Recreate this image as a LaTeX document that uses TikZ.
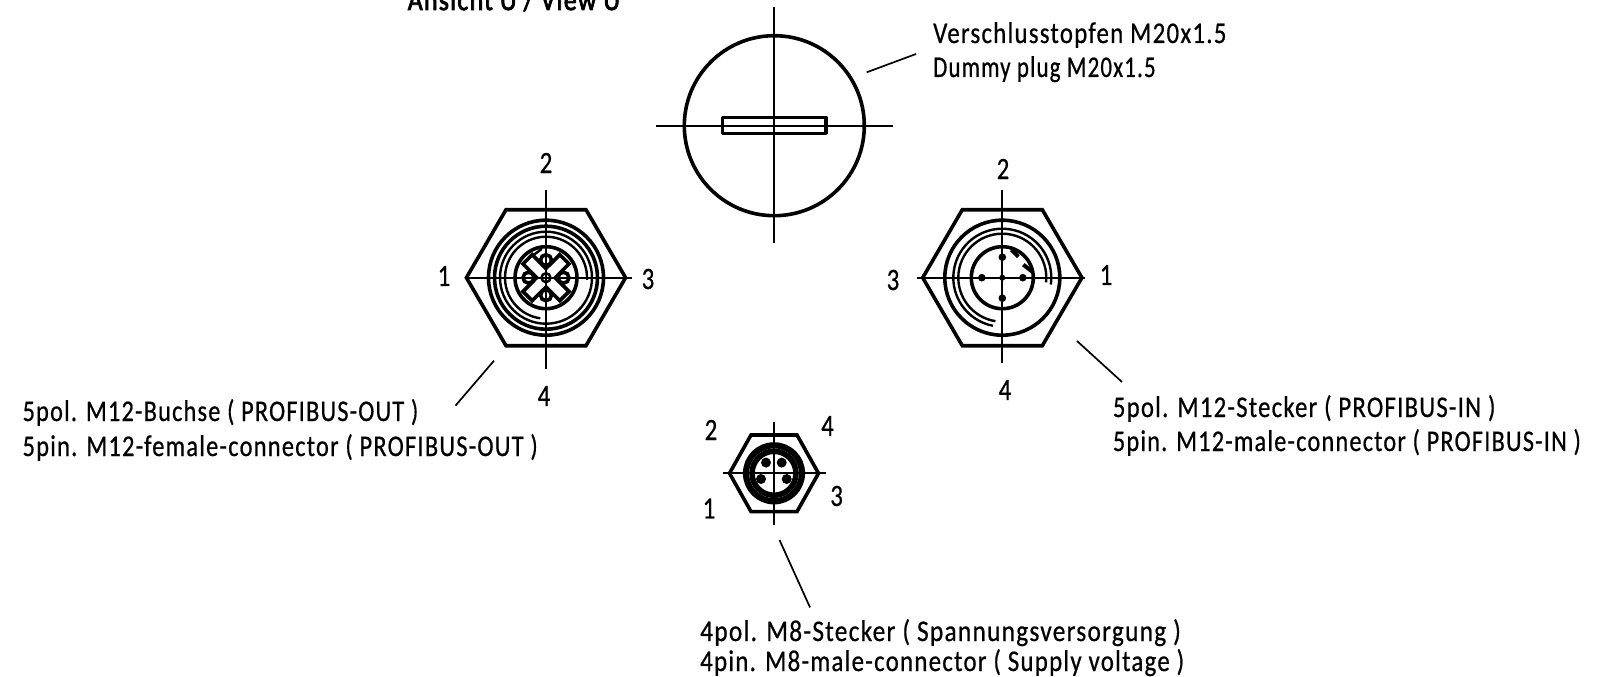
\documentclass[tikz,border=0pt]{standalone}
\usepackage{graphicx}
\usepackage{fontspec}
\setmainfont{Carlito}[LetterSpace=5,FakeBold=0.7]
\newfontfamily\headfont{Carlito}[LetterSpace=5,FakeBold=3]
\newcommand{\hs}[2]{\scalebox{#1}[1]{#2}}
\tikzset{
  heavy/.style={line width=3.6pt,black},
  medium/.style={line width=2.4pt,black},
  centerl/.style={line width=2pt,black},
  leader/.style={line width=1.7pt,black},
  lbl/.style={anchor=base west,inner sep=0pt,font=\fontsize{30}{30}\selectfont},
  num/.style={anchor=center,inner sep=0pt,font=\fontsize{31}{31}\selectfont},
}
\begin{document}
\begin{tikzpicture}[x=1pt,y=-1pt]
\useasboundingbox (0,0) rectangle (1598,677);
\clip (0,0) rectangle (1598,677);
% plug
\coordinate (plug) at (774.3,125.7);
\draw[heavy] (plug) circle (90);
\draw[heavy,line join=round] (722.3,117.3) rectangle (826,133.3);
\draw[centerl] (774.3,7.3) -- (774.3,243);
\draw[centerl] (656,125.7) -- (892.7,125.7);
\coordinate (plugA) at (866.7,72.3); \coordinate (plugB) at (916,54);
\draw[leader] (plugA) -- (plugB);
% hex 1
\begin{scope}[shift={(546,277.7)}]
\coordinate (h1) at (0,0);
\draw[heavy] (-79.6,0) -- (-40,-68) -- (40,-68) -- (79.6,0) -- (40,68) -- (-40,68) -- cycle;
\draw[heavy] (h1) circle (57.5);
\draw[heavy] (h1) circle (51.5);
\draw[medium] (h1) circle (46);
\draw[medium] (3:41) arc[start angle=3,end angle=-262,radius=41];
\draw[heavy] (h1) circle (31);
\draw[medium] (-4.3,-28.7) -- (-19.3,-17.7) -- (-21,-11);
\foreach \a in {45,135}{
  \draw[heavy,rotate=\a,fill=white] (-26,-6.5) rectangle (26,6.5);
}
\fill[white,rotate=45] (-10,-4.7) rectangle (10,4.7);
\foreach \p in {(0,-17.5),(17.5,0),(0,17.5),(-17.5,0)}{ \draw[heavy,fill=white] \p circle (5.5); }
\draw[medium,fill=white] (h1) circle (4.5);
\draw[centerl] (-79.6,0) -- (86,0);
\draw[centerl] (0,-88) -- (0,91);
\end{scope}
% hex 2
\begin{scope}[shift={(1002.3,277.7)}]
\coordinate (h2) at (0,0);
\draw[heavy] (-79.6,0) -- (-40,-68) -- (40,-68) -- (79.6,0) -- (40,68) -- (-40,68) -- cycle;
\draw[heavy] (h2) circle (57.5);
\draw[medium] (8:49) arc[start angle=8,end angle=-259,radius=49];
\draw[medium] (6:44) arc[start angle=6,end angle=-261,radius=44];
\draw[heavy] (h2) circle (31);
\draw[line width=4pt] (9,-28) -- (16,-21);
\draw[line width=4pt] (21,-13) -- (30,-6);
\foreach \p in {(0,-20.5),(20.5,0),(0,20.5),(-20.5,0)}{ \fill \p circle (3.8); }
\fill (h2) circle (3);
\draw[centerl] (-85,0) -- (83,0);
\draw[centerl] (0,-88) -- (0,85);
\end{scope}
% hex 3
\begin{scope}[shift={(774,473.3)}]
\coordinate (h3) at (0,0);
\draw[heavy] (-44.5,0) -- (-23,-38.3) -- (23,-38.3) -- (44.5,0) -- (23,38.3) -- (-23,38.3) -- cycle;
\draw[line width=6.2pt] (h3) circle (28);
\draw[line width=5.6pt] (h3) circle (22);
\foreach \p in {(-8,-10.7),(7.7,-10.7),(-13,5.7),(12.7,5.7)}{ \fill \p circle (5); }
\draw[centerl] (-51.3,0) -- (52,0);
\draw[centerl] (0,-51.3) -- (0,51.7);
\end{scope}
% leaders
\coordinate (l1a) at (455.5,405.6); \coordinate (l1b) at (494,360.7);
\draw[leader] (l1a) -- (l1b);
\coordinate (l2a) at (1077,341); \coordinate (l2b) at (1122,382);
\draw[leader] (l2a) -- (l2b);
\coordinate (l3a) at (779.5,540); \coordinate (l3b) at (810,607.4);
\draw[leader] (l3a) -- (l3b);
% text
\node[lbl] (t0) at (407.6,10) {\headfont\hs{.86}{Ansicht U / View U}};
\node[lbl] (t1) at (933,43) {\hs{.83}{Verschlusstopfen M20x1.5}};
\node[lbl] (t2) at (933,77) {\hs{.765}{Dummy plug M20x1.5}};
\node[lbl] (t3) at (22.4,421) {\hs{.81}{5pol. M12-Buchse ( PROFIBUS-OUT )}};
\node[lbl] (t4) at (22.4,456) {\hs{.815}{5pin. M12-female-connector ( PROFIBUS-OUT )}};
\node[lbl] (t5) at (1112.7,417) {\hs{.825}{5pol. M12-Stecker ( PROFIBUS-IN )}};
\node[lbl] (t6) at (1112.7,451) {\hs{.81}{5pin. M12-male-connector ( PROFIBUS-IN )}};
\node[lbl] (t7) at (700,641) {\hs{.845}{4pol. M8-Stecker ( Spannungsversorgung )}};
\node[lbl] (t8) at (700,671) {\hs{.83}{4pin. M8-male-connector ( Supply voltage )}};
\node[num] (a2) at (546,163) {\hs{.8}{2}};
\node[num] (a1) at (444,276) {\hs{.8}{1}};
\node[num] (a3) at (648,279) {\hs{.8}{3}};
\node[num] (a4) at (544,396) {\hs{.8}{4}};
\node[num] (b2) at (1003,169) {\hs{.8}{2}};
\node[num] (b3) at (893,280) {\hs{.8}{3}};
\node[num] (b1) at (1106,275) {\hs{.8}{1}};
\node[num] (b4) at (1005,390) {\hs{.8}{4}};
\node[num] (c2) at (711,430) {\hs{.8}{2}};
\node[num] (c4) at (827.5,426) {\hs{.8}{4}};
\node[num] (c1) at (709,508.5) {\hs{.8}{1}};
\node[num] (c3) at (836.6,496) {\hs{.8}{3}};
\end{tikzpicture}
\end{document}
